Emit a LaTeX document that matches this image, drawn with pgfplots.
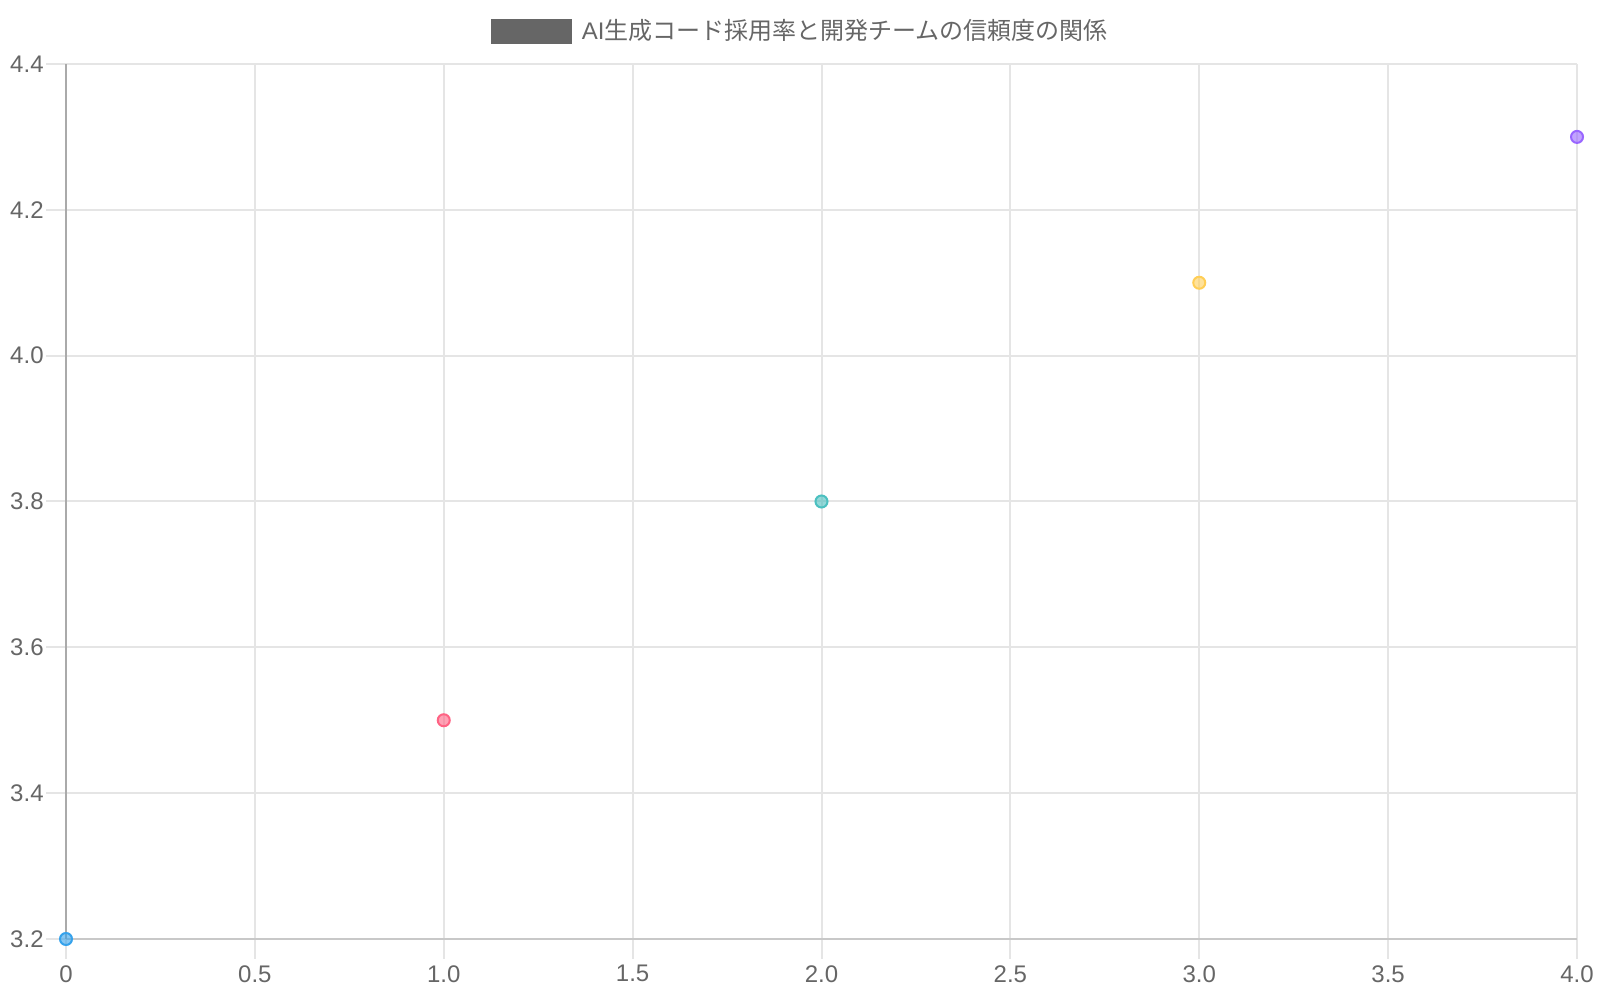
\documentclass[border=0pt]{standalone}
\usepackage{fontspec}
\setmainfont{Liberation Sans}
\newfontfamily\cjk{Noto Sans CJK JP}
\usepackage{pgfplots}
\pgfplotsset{compat=1.18}
\usepackage{pgfplotstable}
\definecolor{cblue}{RGB}{54,162,235}
\definecolor{cred}{RGB}{255,99,132}
\definecolor{cteal}{RGB}{75,192,192}
\definecolor{cyellow}{RGB}{255,206,86}
\definecolor{cpurple}{RGB}{153,102,255}
\definecolor{gridc}{RGB}{229,229,229}
\definecolor{txt}{RGB}{102,102,102}
\definecolor{zeroc}{RGB}{170,170,170}
\definecolor{botc}{RGB}{200,200,200}
\pgfplotstableread{
x y c
0 3.2 a
1 3.5 b
2 3.8 c
3 4.1 d
4 4.3 e
}\datatable
\begin{document}
\begin{tikzpicture}
\useasboundingbox (0,0) rectangle (800pt,500pt);
\begin{axis}[
  at={(33pt,30.5pt)}, anchor=south west,
  scale only axis, width=755.5pt, height=437.5pt,
  xmin=0, xmax=4, ymin=3.2, ymax=4.4,
  xtick={0,0.5,...,4}, ytick={3.2,3.4,...,4.4},
  xticklabels={0,0.5,1.0,1.5,2.0,2.5,3.0,3.5,4.0},
  yticklabels={3.2,3.4,3.6,3.8,4.0,4.2,4.4},
  axis lines*=left,
  x axis line style={draw=botc, line width=1pt},
  y axis line style={draw=zeroc, line width=1pt},
  grid=major, grid style={draw=gridc, line width=1pt},
  tick align=outside, major tick length=10pt,
  major tick style={draw=gridc, line width=1pt},
  ticklabel style={font=\fontsize{12pt}{14pt}\selectfont, text=txt, inner sep=0pt},
  xticklabel style={yshift=-3pt},
  yticklabel style={xshift=-1pt},
  clip=false,
  legend style={at={(0.4854,1)}, anchor=center, yshift=16.4pt, draw=none, fill=none,
    inner sep=0pt, column sep=5pt,
    nodes={inner sep=0pt, text=txt, font=\fontsize{12pt}{14pt}\selectfont, anchor=west}},
  legend cell align=left,
]
\addlegendimage{legend image code/.code={\fill[txt] (0pt,-6.1pt) rectangle (40pt,6.1pt);}}
\addlegendentry{AI{\cjk 生成コード採用率と開発チームの信頼度の関係}}
\addplot[scatter, only marks, point meta=explicit symbolic,
  scatter/classes={
    a={mark=*, mark size=3pt, draw=cblue, fill=cblue, fill opacity=0.6, line width=1pt},
    b={mark=*, mark size=3pt, draw=cred, fill=cred, fill opacity=0.6, line width=1pt},
    c={mark=*, mark size=3pt, draw=cteal, fill=cteal, fill opacity=0.6, line width=1pt},
    d={mark=*, mark size=3pt, draw=cyellow, fill=cyellow, fill opacity=0.6, line width=1pt},
    e={mark=*, mark size=3pt, draw=cpurple, fill=cpurple, fill opacity=0.6, line width=1pt}},
  forget plot] table[x=x, y=y, meta=c] {\datatable};
\end{axis}
\end{tikzpicture}
\end{document}
